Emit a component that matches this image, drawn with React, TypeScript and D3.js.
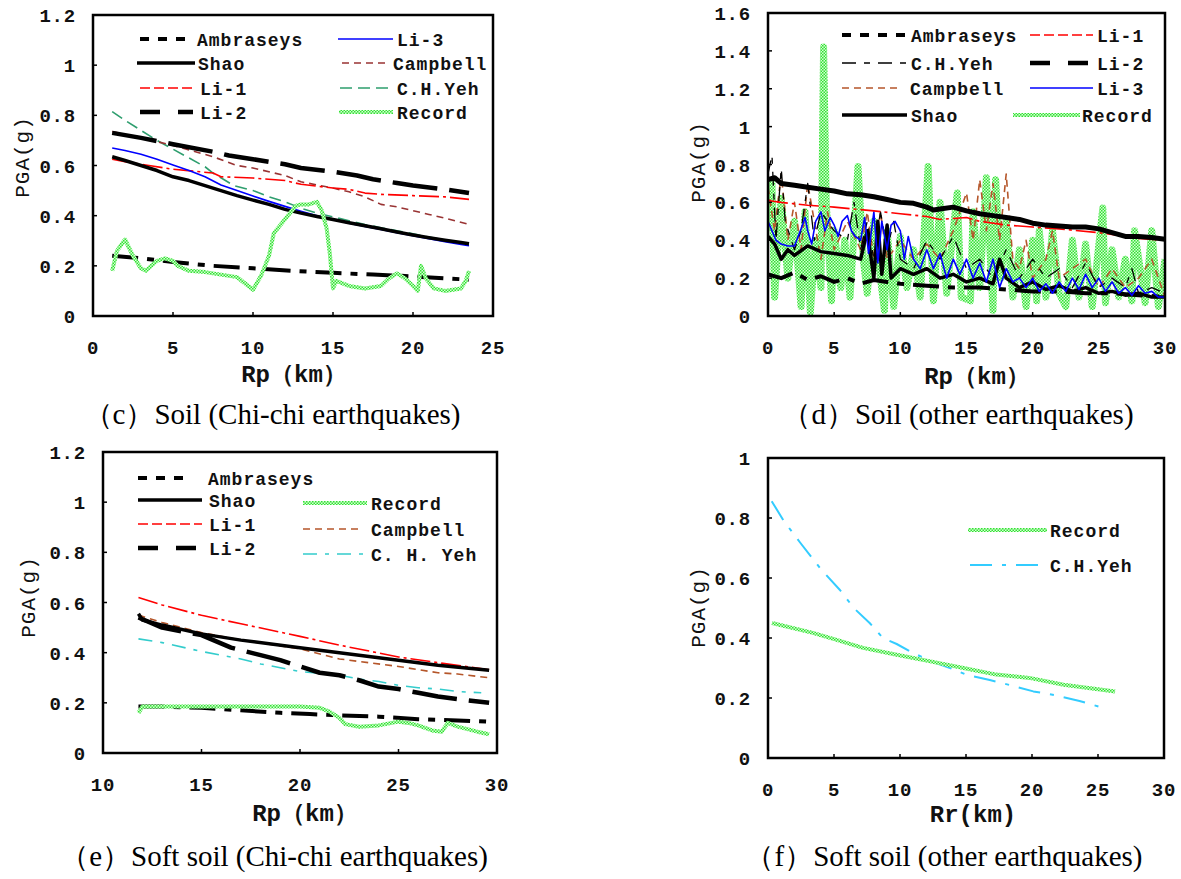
import React from "react";
import * as d3 from "d3";

type Pt = [number, number];

// ---------- (c) Soil, Chi-chi ----------
const cAmbraseys: Pt[] = [[1.2, 0.24], [3, 0.23], [5, 0.215], [7.5, 0.2], [10, 0.19], [12.5, 0.18], [15, 0.172], [17.5, 0.165], [20, 0.158], [22, 0.15], [23.5, 0.145]];
const cShao: Pt[] = [[1.2, 0.635], [2, 0.62], [3, 0.6], [4, 0.58], [5, 0.555], [6, 0.54], [7, 0.52], [8, 0.5], [9, 0.48], [10, 0.462], [11, 0.445], [12, 0.425], [13, 0.41], [14, 0.397], [15, 0.385], [16, 0.372], [17, 0.36], [18, 0.348], [19, 0.335], [20, 0.323], [21, 0.312], [22, 0.302], [23, 0.293], [23.5, 0.288]];
const cLi1: Pt[] = [[1.2, 0.625], [2, 0.615], [3.5, 0.6], [5, 0.585], [7.5, 0.57], [8, 0.555], [10, 0.55], [12, 0.54], [13, 0.525], [15, 0.51], [16, 0.505], [17, 0.49], [18, 0.485], [20, 0.48], [22, 0.475], [23.5, 0.465]];
const cLi2: Pt[] = [[1.2, 0.73], [3, 0.71], [5, 0.685], [7.5, 0.655], [8.5, 0.64], [10, 0.625], [12, 0.605], [13, 0.59], [15, 0.575], [16.5, 0.56], [17.5, 0.545], [19, 0.53], [20, 0.52], [22, 0.505], [23.5, 0.49]];
const cLi3: Pt[] = [[1.2, 0.67], [2, 0.66], [3, 0.645], [4, 0.625], [5, 0.602], [6, 0.58], [7, 0.555], [8, 0.522], [9, 0.5], [10, 0.478], [11, 0.457], [12, 0.437], [13, 0.418], [14, 0.4], [15, 0.385], [16, 0.37], [17, 0.357], [18, 0.345], [19, 0.332], [20, 0.32], [21, 0.308], [22, 0.296], [23, 0.285], [23.5, 0.28]];
const cCampbell: Pt[] = [[1.2, 0.735], [3, 0.71], [5, 0.68], [7.5, 0.635], [9, 0.6], [10, 0.59], [12, 0.56], [13, 0.535], [15, 0.51], [16, 0.495], [17, 0.475], [18, 0.445], [19, 0.435], [20, 0.42], [21, 0.405], [22, 0.39], [23.5, 0.365]];
const cYeh: Pt[] = [[1.2, 0.815], [2, 0.78], [3, 0.74], [4, 0.7], [5, 0.665], [6, 0.63], [7, 0.595], [7.5, 0.57], [8.8, 0.52], [10, 0.5], [11, 0.475], [12, 0.455], [13, 0.43], [14, 0.41], [15, 0.395], [16, 0.38], [17, 0.365], [18, 0.352], [19, 0.34], [20, 0.328], [21, 0.315], [22, 0.302], [23, 0.29], [23.5, 0.285]];
const cRecord: Pt[] = [[1.2, 0.18], [1.5, 0.26], [2, 0.305], [2.5, 0.24], [3, 0.19], [3.3, 0.18], [4, 0.22], [4.5, 0.23], [5, 0.22], [5.3, 0.2], [6, 0.18], [7, 0.175], [8, 0.165], [9, 0.155], [9.5, 0.13], [10, 0.105], [10.5, 0.16], [11, 0.24], [11.3, 0.33], [11.8, 0.37], [12.3, 0.41], [12.7, 0.44], [13, 0.445], [13.5, 0.445], [14, 0.455], [14.3, 0.42], [14.6, 0.35], [14.8, 0.25], [15, 0.11], [15.2, 0.14], [16, 0.12], [17, 0.11], [18, 0.12], [18.5, 0.15], [19, 0.17], [19.5, 0.15], [20, 0.12], [20.3, 0.1], [20.5, 0.2], [20.8, 0.15], [21.3, 0.11], [22, 0.1], [23, 0.11], [23.3, 0.14], [23.5, 0.18]];

// ---------- (d) Soil, other earthquakes ----------
const dRecord: Pt[] = [[0, 0.45], [0.3, 0.7], [0.5, 0.1], [1, 0.62], [1.5, 0.2], [2, 0.5], [2.5, 0.05], [2.8, 0.55], [3.2, 0.02], [3.6, 0.4], [4, 0.15], [4.2, 1.42], [4.4, 0.6], [4.8, 0.08], [5, 0.45], [5.5, 0.15], [5.8, 0.4], [6.2, 0.1], [6.8, 0.79], [7.2, 0.3], [7.5, 0.12], [8, 0.5], [8.5, 0.2], [8.8, 0.03], [9, 0.45], [9.5, 0.05], [10, 0.42], [10.5, 0.15], [11, 0.35], [11.5, 0.1], [12.1, 0.79], [12.5, 0.08], [13, 0.6], [13.5, 0.12], [14.3, 0.65], [14.6, 0.1], [15.3, 0.08], [15.5, 0.55], [16, 0.15], [16.5, 0.73], [17, 0.03], [17.2, 0.72], [17.6, 0.2], [18, 0.5], [18.5, 0.1], [19, 0.35], [19.5, 0.05], [20, 0.4], [20.3, 0.08], [20.5, 0.45], [21, 0.1], [21.5, 0.45], [22, 0.12], [22.5, 0.05], [23, 0.4], [23.5, 0.1], [24, 0.38], [24.5, 0.05], [25.3, 0.57], [25.5, 0.07], [26, 0.35], [26.5, 0.1], [27, 0.3], [27.5, 0.08], [27.7, 0.45], [28.5, 0.07], [29, 0.45], [29.5, 0.05], [30, 0.3]];
const dAmbraseys: Pt[] = [[0, 0.22], [1, 0.2], [2, 0.23], [3, 0.19], [4, 0.21], [5, 0.18], [6, 0.2], [7, 0.17], [8, 0.19], [9, 0.18], [10, 0.17], [12, 0.16], [14, 0.15], [16, 0.15], [18, 0.14], [20, 0.13], [22, 0.13], [24, 0.12], [26, 0.12], [28, 0.11], [30, 0.1]];
const dYeh: Pt[] = [[0, 0.75], [0.3, 0.85], [0.6, 0.4], [1, 0.78], [1.3, 0.5], [2, 0.35], [2.5, 0.45], [3, 0.7], [3.5, 0.4], [4, 0.55], [5, 0.45], [6, 0.4], [6.5, 0.6], [7, 0.35], [7.5, 0.5], [8, 0.3], [8.5, 0.55], [9, 0.35], [9.5, 0.5], [10, 0.3], [11, 0.25], [12, 0.4], [13, 0.3], [14, 0.42], [15, 0.25], [16, 0.3], [17, 0.2], [18, 0.35], [19, 0.2], [20, 0.3], [21, 0.2], [22, 0.25], [23, 0.15], [24, 0.28], [25, 0.15], [26, 0.2], [27, 0.15], [27.5, 0.25], [28, 0.12], [29, 0.15], [30, 0.12]];
const dCampbell: Pt[] = [[0, 0.68], [0.5, 0.45], [1, 0.75], [1.5, 0.4], [2, 0.6], [2.5, 0.35], [3, 0.7], [3.5, 0.5], [4, 0.3], [4.5, 0.55], [5, 0.35], [6, 0.5], [7, 0.35], [7.5, 0.55], [8, 0.3], [8.5, 0.55], [9, 0.3], [10, 0.4], [11, 0.3], [12, 0.38], [13, 0.3], [14, 0.45], [15, 0.65], [15.5, 0.4], [16, 0.72], [16.5, 0.45], [17, 0.7], [17.5, 0.4], [18, 0.75], [18.5, 0.3], [19, 0.25], [19.5, 0.4], [20, 0.2], [21, 0.3], [21.5, 0.45], [22, 0.2], [23, 0.25], [24, 0.3], [25, 0.15], [26, 0.25], [27, 0.15], [28, 0.2], [29, 0.3], [30, 0.1]];
const dShao: Pt[] = [[0, 0.42], [0.5, 0.38], [1, 0.3], [1.5, 0.35], [2, 0.32], [3, 0.37], [4, 0.34], [5, 0.33], [6, 0.32], [7, 0.3], [7.5, 0.45], [8, 0.2], [8.3, 0.5], [8.6, 0.22], [9, 0.48], [9.3, 0.2], [10, 0.25], [11, 0.22], [12, 0.25], [13, 0.2], [14, 0.22], [15, 0.18], [16, 0.2], [17, 0.17], [17.5, 0.3], [18, 0.2], [19, 0.15], [20, 0.18], [21, 0.14], [22, 0.16], [23, 0.13], [24, 0.15], [25, 0.12], [26, 0.13], [27, 0.11], [28, 0.12], [29, 0.1], [30, 0.1]];
const dLi1: Pt[] = [[0, 0.61], [1, 0.6], [3, 0.585], [5, 0.575], [8, 0.555], [10, 0.54], [12, 0.525], [13, 0.51], [14, 0.515], [15, 0.52], [16, 0.5], [18, 0.48], [20, 0.47], [22, 0.46], [25, 0.44], [26, 0.43], [28, 0.41], [30, 0.4]];
const dLi2: Pt[] = [[0, 0.72], [0.5, 0.73], [1, 0.7], [2, 0.69], [3, 0.68], [4, 0.67], [5, 0.66], [6, 0.645], [7, 0.64], [8, 0.63], [9, 0.615], [10, 0.6], [11, 0.595], [12, 0.575], [12.5, 0.56], [13, 0.565], [14, 0.575], [15, 0.555], [16, 0.54], [17, 0.53], [18, 0.52], [19, 0.51], [20, 0.49], [21, 0.48], [22, 0.475], [23, 0.47], [24, 0.47], [25, 0.46], [26, 0.44], [27, 0.42], [28, 0.42], [29, 0.415], [30, 0.405]];
const dLi3: Pt[] = [[0, 0.5], [0.3, 0.45], [0.6, 0.4], [1, 0.38], [1.5, 0.37], [2, 0.37], [2.5, 0.46], [2.8, 0.52], [3, 0.45], [3.3, 0.38], [3.6, 0.5], [4, 0.55], [4.3, 0.45], [4.7, 0.52], [5, 0.48], [5.3, 0.42], [5.6, 0.5], [6, 0.53], [6.3, 0.45], [6.6, 0.42], [7, 0.4], [7.3, 0.52], [7.6, 0.33], [8, 0.55], [8.3, 0.28], [8.6, 0.5], [9, 0.35], [9.3, 0.48], [9.6, 0.5], [10, 0.45], [10.3, 0.3], [10.6, 0.42], [11, 0.3], [11.5, 0.25], [12, 0.35], [12.5, 0.25], [13, 0.33], [13.5, 0.2], [14, 0.3], [14.5, 0.22], [15, 0.3], [15.5, 0.2], [16, 0.28], [16.5, 0.18], [17, 0.3], [17.5, 0.15], [18, 0.25], [18.5, 0.18], [19, 0.2], [19.5, 0.15], [20, 0.2], [20.5, 0.13], [21, 0.17], [21.5, 0.12], [22, 0.18], [22.5, 0.13], [23, 0.2], [23.5, 0.14], [24, 0.22], [24.5, 0.15], [25, 0.2], [25.5, 0.13], [26, 0.18], [26.5, 0.12], [27, 0.15], [27.5, 0.11], [28, 0.16], [28.5, 0.12], [29, 0.13], [29.5, 0.1], [30, 0.1]];

// ---------- (e) Soft soil, Chi-chi ----------
const eAmbraseys: Pt[] = [[11.8, 0.185], [13, 0.185], [15, 0.18], [17, 0.17], [19, 0.16], [20.5, 0.155], [22, 0.15], [24, 0.145], [26, 0.135], [28, 0.13], [29.6, 0.125]];
const eShao: Pt[] = [[11.8, 0.555], [12, 0.53], [13, 0.51], [15, 0.475], [17, 0.45], [20, 0.42], [22, 0.4], [25, 0.37], [27, 0.35], [29.6, 0.33]];
const eLi1: Pt[] = [[11.8, 0.62], [13, 0.59], [15, 0.549], [17, 0.515], [20, 0.465], [22, 0.43], [25, 0.383], [27, 0.36], [29.6, 0.332]];
const eLi2: Pt[] = [[11.8, 0.54], [13, 0.5], [15, 0.47], [16.5, 0.42], [18, 0.39], [19, 0.37], [20, 0.345], [21, 0.32], [22, 0.31], [23, 0.29], [24, 0.265], [25, 0.255], [26, 0.24], [27, 0.225], [28, 0.215], [29.6, 0.2]];
const eCampbell: Pt[] = [[11.8, 0.55], [13, 0.52], [15, 0.48], [17, 0.45], [20, 0.415], [22, 0.375], [23, 0.365], [25, 0.345], [27, 0.32], [28, 0.315], [29.6, 0.3]];
const eYeh: Pt[] = [[11.8, 0.455], [13, 0.44], [15, 0.405], [17, 0.375], [18, 0.355], [19, 0.34], [20, 0.325], [22, 0.31], [23, 0.295], [24, 0.285], [25, 0.27], [26, 0.26], [27, 0.255], [28, 0.245], [29.2, 0.24]];
const eRecord: Pt[] = [[11.8, 0.16], [12, 0.185], [15, 0.185], [20, 0.185], [21, 0.18], [21.5, 0.165], [22, 0.14], [22.3, 0.115], [23, 0.105], [24, 0.11], [25, 0.125], [25.5, 0.12], [26, 0.11], [26.7, 0.09], [27.2, 0.085], [27.5, 0.12], [28, 0.105], [29, 0.085], [29.6, 0.075]];

// ---------- (f) Soft soil, other earthquakes ----------
const fRecord: Pt[] = [[0.3, 0.45], [3.4, 0.417], [5.2, 0.394], [7.2, 0.367], [9.75, 0.344], [12.3, 0.322], [14.8, 0.3], [17.3, 0.278], [19.8, 0.267], [22.4, 0.244], [26.3, 0.222]];
const fYeh: Pt[] = [[0.28, 0.856], [1.2, 0.79], [2.4, 0.72], [4, 0.63], [5.45, 0.56], [6.5, 0.5], [7.7, 0.45], [8.7, 0.4], [9.75, 0.38], [11, 0.35], [12.5, 0.32], [13.8, 0.3], [15, 0.278], [16.8, 0.26], [18.6, 0.24], [20.1, 0.222], [21.9, 0.208], [23.6, 0.19], [25.4, 0.167]];

const yTicks12 = [0, 0.2, 0.4, 0.6, 0.8, 1, 1.2];
const yTicks16 = [0, 0.2, 0.4, 0.6, 0.8, 1, 1.2, 1.4, 1.6];
const yTicks10 = [0, 0.2, 0.4, 0.6, 0.8, 1];
const xTicks25 = [0, 5, 10, 15, 20, 25];
const xTicks30 = [0, 5, 10, 15, 20, 25, 30];
const xTicks1030 = [10, 15, 20, 25, 30];

const MONO = "'Liberation Mono', 'DejaVu Sans Mono', monospace";
const SERIF = "'Liberation Serif', 'Times New Roman', serif";

type Sty = { stroke: string; w: number; dash?: string };
const STY: Record<string, Sty> = {
  ambraseys: { stroke: "#000", w: 4, dash: "26 9 7 9" },
  ambLeg: { stroke: "#000", w: 4, dash: "9 9" },
  shao: { stroke: "#000", w: 3.5 },
  li1: { stroke: "#ff0000", w: 1.6, dash: "20 4 3 4" },
  li1Leg: { stroke: "#ff0000", w: 1.6, dash: "10 4" },
  li2: { stroke: "#000", w: 4.5, dash: "45 12" },
  li2D: { stroke: "#000", w: 5 },
  li2Leg: { stroke: "#000", w: 4.5, dash: "20 18" },
  li3: { stroke: "#0000ff", w: 1.6 },
  campbellC: { stroke: "#993333", w: 1.6, dash: "7 5" },
  campbell: { stroke: "#b5562a", w: 1.6, dash: "7 5" },
  yehC: { stroke: "#2e9e6e", w: 1.6, dash: "12 6" },
  yehD: { stroke: "#000", w: 1.3, dash: "14 8 6 8" },
  yehE: { stroke: "#33cccc", w: 1.6, dash: "14 8 4 8" },
  yehF: { stroke: "#33ccff", w: 2, dash: "22 10 4 10" },
  record: { stroke: "url(#recHatch)", w: 4 },
  recordD: { stroke: "url(#recHatch)", w: 7 },
};

type Leg = { label: string; sty: Sty; x1: number; x2: number; y: number; tx: number };
type PanelCfg = {
  id: string;
  left: number; top: number; right: number; bottom: number;
  xDomain: [number, number]; yDomain: [number, number];
  xTicks: number[]; yTicks: number[];
  series: { data: Pt[]; sty: Sty }[];
  legend: Leg[];
  xTitle: string; xTitleX: number; xTitleY: number;
  yTitleX: number; yTitleY: number;
  caption: string; capX: number; capY: number;
};

const panels: PanelCfg[] = [
  {
    id: "c", left: 93, top: 15, right: 493, bottom: 316,
    xDomain: [0, 25], yDomain: [0, 1.2], xTicks: xTicks25, yTicks: yTicks12,
    series: [
      { data: cYeh, sty: STY.yehC }, { data: cCampbell, sty: STY.campbellC },
      { data: cLi1, sty: STY.li1 }, { data: cLi3, sty: STY.li3 },
      { data: cLi2, sty: STY.li2 }, { data: cShao, sty: STY.shao },
      { data: cAmbraseys, sty: STY.ambraseys }, { data: cRecord, sty: STY.record },
    ],
    legend: [
      { label: "Ambraseys", sty: STY.ambLeg, x1: 140, x2: 190, y: 39, tx: 197 },
      { label: "Shao", sty: STY.shao, x1: 137, x2: 195, y: 63, tx: 198 },
      { label: "Li-1", sty: STY.li1Leg, x1: 140, x2: 193, y: 88, tx: 200 },
      { label: "Li-2", sty: STY.li2Leg, x1: 140, x2: 193, y: 112, tx: 200 },
      { label: "Li-3", sty: STY.li3, x1: 338, x2: 393, y: 39, tx: 397 },
      { label: "Campbell", sty: STY.campbellC, x1: 342, x2: 387, y: 63, tx: 393 },
      { label: "C.H.Yeh", sty: STY.yehC, x1: 340, x2: 393, y: 88, tx: 397 },
      { label: "Record", sty: STY.record, x1: 339, x2: 393, y: 112, tx: 397 },
    ],
    xTitle: "Rp（km）", xTitleX: 294, xTitleY: 382, yTitleX: 22, yTitleY: 157,
    caption: "（c）Soil (Chi-chi earthquakes)", capX: 272, capY: 424,
  },
  {
    id: "d", left: 768, top: 13, right: 1165, bottom: 316,
    xDomain: [0, 30], yDomain: [0, 1.6], xTicks: xTicks30, yTicks: yTicks16,
    series: [
      { data: dRecord, sty: STY.recordD }, { data: dCampbell, sty: STY.campbell },
      { data: dYeh, sty: STY.yehD }, { data: dAmbraseys, sty: STY.ambraseys },
      { data: dShao, sty: STY.shao }, { data: dLi3, sty: STY.li3 },
      { data: dLi1, sty: STY.li1 }, { data: dLi2, sty: STY.li2D },
    ],
    legend: [
      { label: "Ambraseys", sty: STY.ambLeg, x1: 842, x2: 907, y: 35, tx: 911 },
      { label: "C.H.Yeh", sty: STY.yehD, x1: 842, x2: 907, y: 63, tx: 911 },
      { label: "Campbell", sty: STY.campbell, x1: 842, x2: 897, y: 88, tx: 910 },
      { label: "Shao", sty: STY.shao, x1: 842, x2: 907, y: 115, tx: 911 },
      { label: "Li-1", sty: STY.li1Leg, x1: 1030, x2: 1093, y: 35, tx: 1097 },
      { label: "Li-2", sty: STY.li2Leg, x1: 1030, x2: 1093, y: 63, tx: 1097 },
      { label: "Li-3", sty: STY.li3, x1: 1030, x2: 1093, y: 88, tx: 1097 },
      { label: "Record", sty: STY.record, x1: 1013, x2: 1080, y: 115, tx: 1082 },
    ],
    xTitle: "Rp（km）", xTitleX: 977, xTitleY: 384, yTitleX: 698, yTitleY: 162,
    caption: "（d）Soil (other earthquakes)", capX: 958, capY: 424,
  },
  {
    id: "e", left: 103, top: 452, right: 497, bottom: 753,
    xDomain: [10, 30], yDomain: [0, 1.2], xTicks: xTicks1030, yTicks: yTicks12,
    series: [
      { data: eYeh, sty: STY.yehE }, { data: eCampbell, sty: STY.campbell },
      { data: eLi1, sty: STY.li1 }, { data: eLi2, sty: STY.li2 },
      { data: eShao, sty: STY.shao }, { data: eAmbraseys, sty: STY.ambraseys },
      { data: eRecord, sty: STY.record },
    ],
    legend: [
      { label: "Ambraseys", sty: STY.ambLeg, x1: 138, x2: 192, y: 478, tx: 208 },
      { label: "Shao", sty: STY.shao, x1: 138, x2: 202, y: 500, tx: 209 },
      { label: "Li-1", sty: STY.li1Leg, x1: 138, x2: 202, y: 524, tx: 209 },
      { label: "Li-2", sty: STY.li2Leg, x1: 138, x2: 202, y: 548, tx: 209 },
      { label: "Record", sty: STY.record, x1: 303, x2: 367, y: 503, tx: 371 },
      { label: "Campbell", sty: STY.campbell, x1: 303, x2: 363, y: 529, tx: 371 },
      { label: "C. H. Yeh", sty: STY.yehE, x1: 303, x2: 363, y: 554, tx: 371 },
    ],
    xTitle: "Rp（km）", xTitleX: 305, xTitleY: 821, yTitleX: 28, yTitleY: 597,
    caption: "（e）Soft soil (Chi-chi earthquakes)", capX: 274, capY: 866,
  },
  {
    id: "f", left: 768, top: 458, right: 1164, bottom: 758,
    xDomain: [0, 30], yDomain: [0, 1], xTicks: xTicks30, yTicks: yTicks10,
    series: [{ data: fYeh, sty: STY.yehF }, { data: fRecord, sty: STY.record }],
    legend: [
      { label: "Record", sty: STY.record, x1: 968, x2: 1047, y: 530, tx: 1050 },
      { label: "C.H.Yeh", sty: STY.yehF, x1: 970, x2: 1038, y: 565, tx: 1050 },
    ],
    xTitle: "Rr(km)", xTitleX: 973, xTitleY: 822, yTitleX: 698, yTitleY: 607,
    caption: "（f）Soft soil (other earthquakes)", capX: 944, capY: 866,
  },
];

const fmt = d3.format("~g");

function Panel({ p }: { p: PanelCfg }) {
  const x = d3.scaleLinear().domain(p.xDomain).range([p.left, p.right]);
  const y = d3.scaleLinear().domain(p.yDomain).range([p.bottom, p.top]);
  const line = d3.line<Pt>().x((d) => x(d[0])).y((d) => y(d[1]));
  const clip = `clip-${p.id}`;
  return (
    <g>
      <clipPath id={clip}>
        <rect x={p.left} y={p.top} width={p.right - p.left} height={p.bottom - p.top} />
      </clipPath>
      <g clipPath={`url(#${clip})`}>
        {p.series.map((s, i) => (
          <path key={i} d={line(s.data) || ""} fill="none" stroke={s.sty.stroke}
            strokeWidth={s.sty.w} strokeDasharray={s.sty.dash} strokeLinejoin="round" />
        ))}
      </g>
      <rect x={p.left} y={p.top} width={p.right - p.left} height={p.bottom - p.top}
        fill="none" stroke="#000" strokeWidth={2.5} />
      {p.yTicks.map((t) => (
        <g key={"y" + t}>
          <line x1={p.left} x2={p.left + 4} y1={y(t)} y2={y(t)} stroke="#000" strokeWidth={1.5} />
          <text x={p.left - 17} y={y(t) + 7} textAnchor="end" fontFamily={MONO}
            fontWeight="bold" fontSize={19} letterSpacing={0.8} fill="#111">{fmt(t)}</text>
        </g>
      ))}
      {p.xTicks.map((t) => (
        <g key={"x" + t}>
          <line x1={x(t)} x2={x(t)} y1={p.bottom} y2={p.bottom - 4} stroke="#000" strokeWidth={1.5} />
          <text x={x(t)} y={p.bottom + 38} textAnchor="middle" fontFamily={MONO}
            fontWeight="bold" fontSize={19} letterSpacing={0.8} fill="#111">{fmt(t)}</text>
        </g>
      ))}
      <text x={p.xTitleX} y={p.xTitleY} textAnchor="middle" fontFamily={MONO}
        fontWeight="bold" fontSize={24} fill="#111">{p.xTitle}</text>
      <text transform={`translate(${p.yTitleX},${p.yTitleY}) rotate(-90)`} textAnchor="middle"
        dy={7} fontFamily={MONO} fontSize={21} letterSpacing={1} fill="#111">PGA(g)</text>
      {p.legend.map((l, i) => (
        <g key={"l" + i}>
          <line x1={l.x1} x2={l.x2} y1={l.y} y2={l.y} stroke={l.sty.stroke}
            strokeWidth={l.sty.w} strokeDasharray={l.sty.dash} />
          <text x={l.tx} y={l.y + 7} fontFamily={MONO} fontWeight="bold" fontSize={18}
            letterSpacing={1} fill="#111" style={{ whiteSpace: "pre" }}>{l.label}</text>
        </g>
      ))}
      <text x={p.capX} y={p.capY} textAnchor="middle" fontFamily={SERIF} fontSize={29} fill="#000">
        {p.caption}
      </text>
    </g>
  );
}

export default function App() {
  return (
    <svg width={1181} height={879} style={{ position: "absolute", left: 0, top: 0, background: "#fff" }}>
      <defs>
        <pattern id="recHatch" width="3" height="3" patternUnits="userSpaceOnUse">
          <rect width="3" height="3" fill="#d4ffd4" />
          <rect width="1.5" height="1.5" fill="#33e033" />
          <rect x="1.5" y="1.5" width="1.5" height="1.5" fill="#33e033" />
        </pattern>
      </defs>
      <rect width={1181} height={879} fill="#fff" />
      {panels.map((p) => <Panel key={p.id} p={p} />)}
    </svg>
  );
}
